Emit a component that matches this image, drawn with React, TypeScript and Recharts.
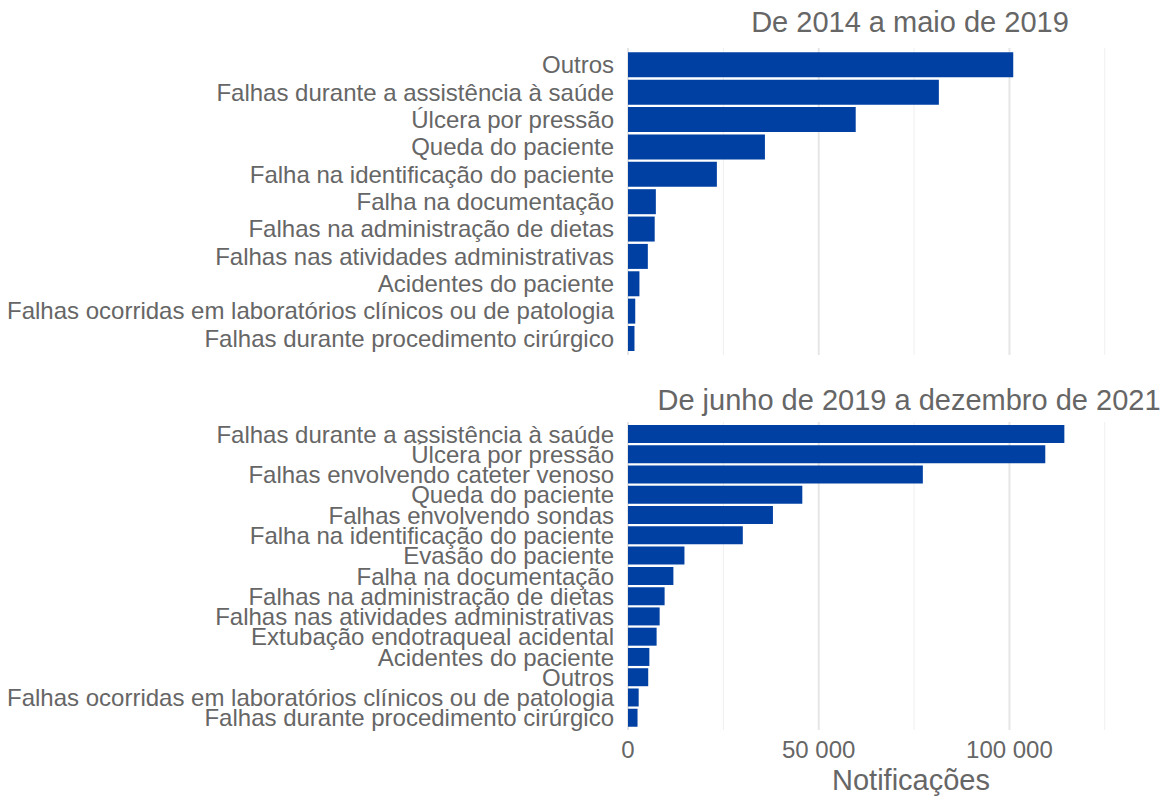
import React from "react";
import { BarChart, Bar, XAxis, YAxis, CartesianGrid } from "recharts";

// 2014 – maio 2019
const topCategories = [
  "Outros",
  "Falhas durante a assistência à saúde",
  "Úlcera por pressão",
  "Queda do paciente",
  "Falha na identificação do paciente",
  "Falha na documentação",
  "Falhas na administração de dietas",
  "Falhas nas atividades administrativas",
  "Acidentes do paciente",
  "Falhas ocorridas em laboratórios clínicos ou de patologia",
  "Falhas durante procedimento cirúrgico",
];
const topValues = [101000, 81500, 59700, 35900, 23300, 7300, 7000, 5200, 3000, 1900, 1700];

// junho 2019 – dezembro 2021
const bottomCategories = [
  "Falhas durante a assistência à saúde",
  "Úlcera por pressão",
  "Falhas envolvendo cateter venoso",
  "Queda do paciente",
  "Falhas envolvendo sondas",
  "Falha na identificação do paciente",
  "Evasão do paciente",
  "Falha na documentação",
  "Falhas na administração de dietas",
  "Falhas nas atividades administrativas",
  "Extubação endotraqueal acidental",
  "Acidentes do paciente",
  "Outros",
  "Falhas ocorridas em laboratórios clínicos ou de patologia",
  "Falhas durante procedimento cirúrgico",
];
const bottomValues = [
  114400, 109400, 77300, 45700, 38000, 30100, 14800, 11900, 9600, 8300, 7500, 5600, 5300, 2800, 2500,
];

const xTicks = [0, 50000, 100000];
const gridMajor = [0, 50000, 100000];
const gridMinor = [25000, 75000, 125000];

const topTitle = "De 2014 a maio de 2019";
const bottomTitle = "De junho de 2019 a dezembro de 2021";
const xTitle = "Notificações";

const FONT = '"Liberation Sans", Arial, Helvetica, sans-serif';
const TEXT = "#666666";
const BAR = "#0040A3";

const fmt = (v: number) => String(v).replace(/\B(?=(\d{3})+(?!\d))/g, " ");

const topData = topCategories.map((name, i) => ({ name, value: topValues[i] }));
const bottomData = bottomCategories.map((name, i) => ({ name, value: bottomValues[i] }));

function grids() {
  return [
    <CartesianGrid key="mi" horizontal={false} verticalValues={gridMinor} stroke="#efefef" strokeWidth={1} />,
    <CartesianGrid key="ma" horizontal={false} verticalValues={gridMajor} stroke="#e6e6e6" strokeWidth={2} />,
  ];
}

export default function App() {
  const tick = { fill: TEXT, fontSize: 24, fontFamily: FONT };
  return (
    <div style={{ position: "absolute", left: 0, top: 0, width: 1169, height: 802, background: "#fff" }}>
      <div style={{ position: "absolute", left: 0, top: 0 }}>
        <BarChart
          width={1169}
          height={360}
          data={topData}
          layout="vertical"
          margin={{ top: 48, right: 7, bottom: 5, left: 0 }}
          barCategoryGap="5%"
        >
          {grids()}
          <XAxis type="number" domain={[0, 140000]} hide allowDataOverflow />
          <YAxis
            type="category"
            dataKey="name"
            width={628}
            axisLine={false}
            tickLine={false}
            tickSize={0}
            tickMargin={14}
            interval={0}
            tick={tick}
            padding={{ top: 3, bottom: 3 }}
          />
          <Bar dataKey="value" fill={BAR} isAnimationActive={false} />
        </BarChart>
      </div>
      <div style={{ position: "absolute", left: 0, top: 370 }}>
        <BarChart
          width={1169}
          height={432}
          data={bottomData}
          layout="vertical"
          margin={{ top: 52, right: 7, bottom: 0, left: 0 }}
          barCategoryGap="5%"
        >
          {grids()}
          <XAxis
            type="number"
            domain={[0, 140000]}
            ticks={xTicks}
            tickFormatter={fmt}
            axisLine={false}
            tickLine={false}
            tickSize={0}
            tickMargin={11}
            height={72}
            tick={tick}
            allowDataOverflow
          />
          <YAxis
            type="category"
            dataKey="name"
            width={628}
            axisLine={false}
            tickLine={false}
            tickSize={0}
            tickMargin={14}
            interval={0}
            tick={tick}
            padding={{ top: 2, bottom: 2 }}
          />
          <Bar dataKey="value" fill={BAR} isAnimationActive={false} />
        </BarChart>
      </div>
      <svg
        width={1169}
        height={802}
        style={{ position: "absolute", left: 0, top: 0, pointerEvents: "none" }}
      >
        <text x={910} y={32} textAnchor="middle" fontSize={29} fill={TEXT} fontFamily={FONT}>
          {topTitle}
        </text>
        <text x={909} y={410} textAnchor="middle" fontSize={29} fill={TEXT} fontFamily={FONT}>
          {bottomTitle}
        </text>
        <text x={911} y={790} textAnchor="middle" fontSize={29} fill={TEXT} fontFamily={FONT}>
          {xTitle}
        </text>
      </svg>
    </div>
  );
}
